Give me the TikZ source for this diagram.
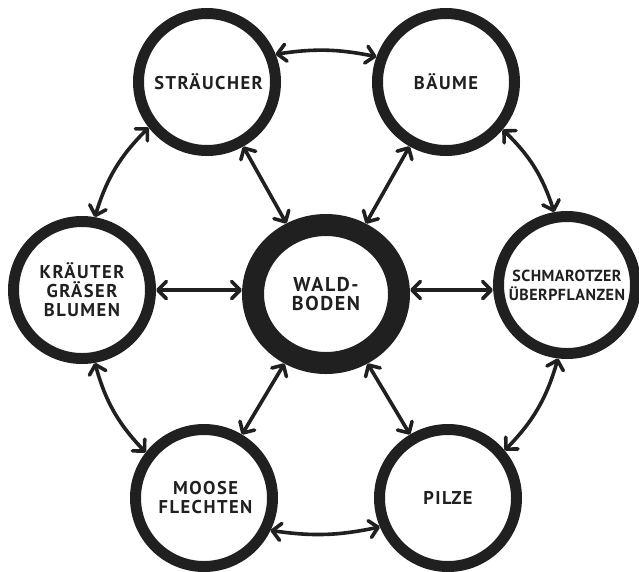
\documentclass[tikz,border=0pt]{standalone}
\usepackage{fontspec}
\setmainfont{PT Sans}
\newfontfamily\hand{PT Sans}[LetterSpace=8]
\newfontfamily\handn{PT Sans}[LetterSpace=3]
\usetikzlibrary{arrows.meta,shapes.geometric}
\definecolor{ink}{RGB}{32,32,32}
\tikzset{
  ring/.style={circle, draw=ink, line width=11pt, minimum size=137pt, inner sep=0pt,
    align=center, text=ink, font=\hand\bfseries\fontsize{18.5}{19}\selectfont},
  bigring/.style={ellipse, draw=ink, line width=22pt, minimum width=146pt, minimum height=138pt,
    inner sep=0pt, align=center, text=ink, font=\hand\bfseries\fontsize{20}{19}\selectfont},
  arr/.style={draw=ink, line width=3.6pt,
    {Straight Barb[round,length=8.5pt,width=17pt]}-{Straight Barb[round,length=8.5pt,width=17pt]}}
}
\begin{document}
\begin{tikzpicture}[x=1pt,y=-1pt]
\useasboundingbox[fill=white] (0,0) rectangle (639,571);
\node[bigring] (w) at (326,294) {WALD-\\BODEN};
\node[ring] (s) at (207,82) {\,STRÄUCHER};
\node[ring] (b) at (446,82) {BÄUME};
\node[ring] (k) at (82,290) {KRÄUTER\\GRÄSER\\BLUMEN};
\node[ring, font=\handn\bfseries\fontsize{16}{19}\selectfont] (sm) at (567,285) {SCHMAROTZER\\ÜBERPFLANZEN};
\node[ring] (m) at (204,498) {\,MOOSE\\\,FLECHTEN};
\node[ring] (p) at (448,498) {PILZE};
\draw[arr] (s.22) to[bend left=10] (b.160);
\draw[arr] (s.218) to[bend right=14] (k.80);
\draw[arr] (b.-40) to[bend left=14] (sm.100);
\draw[arr] (k.-80) to[bend right=14] (m.142);
\draw[arr] (sm.263) to[bend left=14] (p.40);
\draw[arr] (m.-26) to[bend right=10] (p.203);
\draw[arr] (s) -- (w);
\draw[arr] (b) -- (w);
\draw[arr] (m) -- (w);
\draw[arr] (p) -- (w);
\draw[arr] (k.east |- 0,290) -- (w.west |- 0,290);
\draw[arr] (w.east |- 0,290) -- (sm.west |- 0,290);
\end{tikzpicture}
\end{document}
